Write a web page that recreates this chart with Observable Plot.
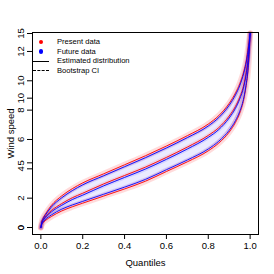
<!DOCTYPE html>
<html>
<head>
<meta charset="utf-8">
<script src="https://cdn.jsdelivr.net/npm/d3@7"></script>
<script src="https://cdn.jsdelivr.net/npm/@observablehq/plot@0.6"></script>
<style>
  html, body { margin: 0; padding: 0; background: #fff; }
  #wrap { position: relative; width: 274px; height: 274px; font-family: "Liberation Sans", Arial, sans-serif; }
  #legend { position: absolute; left: 33px; top: 37px; font-size: 7.6px; line-height: 9.7px; color: #000; }
  #legend .row { display: flex; align-items: center; height: 9.7px; }
  #legend .sym { width: 16px; display: flex; justify-content: center; align-items: center; margin-right: 8px; }
  #legend .dot { width: 4.5px; height: 4.5px; border-radius: 50%; }
  #legend .ln { width: 16px; height: 0; border-top: 1px solid #000; }
  #legend .ln.dash { border-top: 1px dashed #000; }
</style>
</head>
<body>
<div id="wrap"><div id="chart"></div><div id="legend"></div></div>
<script>
// Quantile levels
const quantiles = [0, 0.005, 0.01, 0.02, 0.05, 0.1, 0.15, 0.2, 0.3, 0.4, 0.5, 0.6, 0.7, 0.8, 0.85, 0.9, 0.93, 0.95, 0.97, 0.98, 0.99, 0.995, 1];
// Present data (red): estimated distribution and bootstrap CI
const presentUpper = [0, 0.5, 0.72, 1.0, 1.7, 2.45, 3.0, 3.45, 4.15, 4.85, 5.55, 6.3, 7.1, 8.0, 8.65, 9.6, 10.4, 11.1, 12.1, 12.8, 13.8, 14.4, 15.0];
const presentEst   = [0, 0.39, 0.57, 0.8, 1.3, 1.85, 2.3, 2.65, 3.37, 4.02, 4.67, 5.42, 6.22, 7.12, 7.72, 8.62, 9.37, 10.07, 11.07, 11.87, 13.05, 13.93, 15.0];
const presentLower = [0, 0.25, 0.36, 0.52, 0.85, 1.28, 1.6, 1.88, 2.43, 2.98, 3.58, 4.33, 5.08, 5.93, 6.53, 7.38, 8.13, 8.83, 9.93, 10.83, 12.13, 13.23, 15.0];
// Future data (blue)
const futureUpper  = [0, 0.46, 0.66, 0.92, 1.58, 2.3, 2.85, 3.3, 4.0, 4.7, 5.4, 6.15, 6.95, 7.85, 8.5, 9.45, 10.25, 10.95, 11.95, 12.65, 13.65, 14.3, 15.0];
const futureEst    = [0, 0.36, 0.53, 0.75, 1.2, 1.72, 2.16, 2.5, 3.22, 3.87, 4.52, 5.27, 6.07, 6.97, 7.57, 8.47, 9.22, 9.92, 10.92, 11.72, 12.92, 13.85, 15.0];
const futureLower  = [0, 0.28, 0.42, 0.6, 0.97, 1.42, 1.74, 2.02, 2.57, 3.12, 3.72, 4.47, 5.22, 6.07, 6.67, 7.52, 8.27, 8.97, 10.07, 10.97, 12.27, 13.37, 15.0];

// Tick labels
const xTicks = [0, 0.2, 0.4, 0.6, 0.8, 1.0];
const yTicksMain = [0, 5, 10, 15];
const yTicksSecond = [0, 2, 4, 6, 8, 10, 12];   // second (overlapping) axis
const secondAxisRatio = 1.1343;                 // second axis unit expressed in main-axis units

const legendItems = [
  {label: "Present data", kind: "dot", color: "red"},
  {label: "Future data", kind: "dot", color: "blue"},
  {label: "Estimated distribution", kind: "line"},
  {label: "Bootstrap CI", kind: "dash"}
];

const table = quantiles.map((q, i) => ({
  q,
  pe: presentEst[i], pu: presentUpper[i], pl: presentLower[i],
  fe: futureEst[i], fu: futureUpper[i], fl: futureLower[i]
}));

const font = "Liberation Sans, Arial, sans-serif";
const curve = "monotone-x";
const halo = (y, color, w, o) => Plot.line(table, {x: "q", y, stroke: color, strokeWidth: w, strokeOpacity: o, curve});
const line = (y, color) => Plot.line(table, {x: "q", y, stroke: color, strokeWidth: 0.9, curve});

const chart = Plot.plot({
  width: 274,
  height: 274,
  marginLeft: 32,
  marginRight: 16,
  marginTop: 32,
  marginBottom: 40,
  style: {fontFamily: font, background: "white", color: "black", overflow: "visible"},
  x: {domain: [-0.04, 1.04]},
  y: {domain: [-0.541, 15.077]},
  marks: [
    Plot.areaY(table, {x: "q", y1: "fl", y2: "fu", fill: "blue", fillOpacity: 0.08, curve}),
    halo("pu", "red", 6, 0.14), halo("pl", "red", 6, 0.14), halo("pe", "red", 4, 0.1),
    halo("fu", "blue", 4, 0.1), halo("fl", "blue", 4, 0.1), halo("fe", "blue", 4, 0.1),
    line("pu", "red"), line("pl", "red"), line("pe", "red"),
    line("fu", "blue"), line("fl", "blue"), line("fe", "blue"),
    Plot.frame({stroke: "black", strokeWidth: 1}),
    Plot.axisX(xTicks, {
      tickSize: 5, tickPadding: 3, fontSize: 9.5, tickFormat: d3.format(".1f"),
      label: "Quantiles", labelAnchor: "center", labelArrow: "none", labelOffset: 31
    }),
    Plot.axisY(yTicksMain, {
      tickSize: 5, tickPadding: 4, fontSize: 9.5, tickRotate: -90,
      label: "Wind speed", labelAnchor: "center", labelArrow: "none", labelOffset: 25
    }),
    Plot.axisY(yTicksSecond.map(v => v * secondAxisRatio), {
      tickSize: 5, tickPadding: 4, fontSize: 9.5, tickRotate: -90,
      tickFormat: d => String(Math.round(d / secondAxisRatio)), label: null
    })
  ]
});
document.getElementById("chart").appendChild(chart);

const legend = document.getElementById("legend");
for (const it of legendItems) {
  const row = document.createElement("div"); row.className = "row";
  const sym = document.createElement("div"); sym.className = "sym";
  const s = document.createElement("div");
  if (it.kind === "dot") { s.className = "dot"; s.style.background = it.color; }
  else { s.className = it.kind === "dash" ? "ln dash" : "ln"; }
  sym.appendChild(s);
  const txt = document.createElement("span"); txt.textContent = it.label;
  row.appendChild(sym); row.appendChild(txt);
  legend.appendChild(row);
}
</script>
</body>
</html>
